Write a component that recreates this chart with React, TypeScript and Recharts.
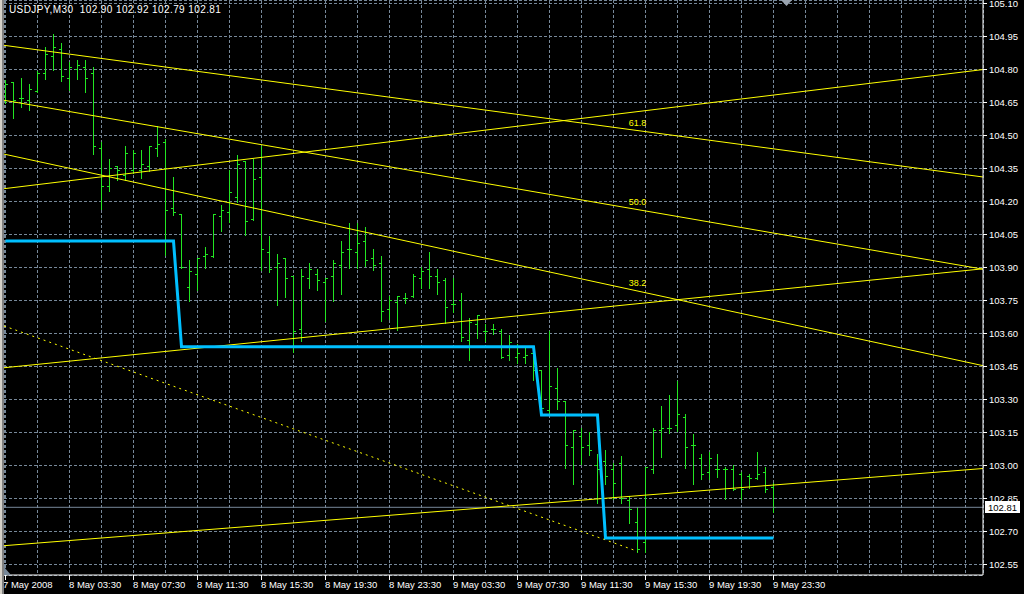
import React from 'react';
import {
  ComposedChart,
  Bar,
  Line,
  XAxis,
  YAxis,
  CartesianGrid,
  ReferenceLine,
  ReferenceDot,
} from 'recharts';

// ---------- data ----------
const timeLabels = [
  '7 May 2008', '8 May 03:30', '8 May 07:30', '8 May 11:30', '8 May 15:30',
  '8 May 19:30', '8 May 23:30', '9 May 03:30', '9 May 07:30', '9 May 11:30',
  '9 May 15:30', '9 May 19:30', '9 May 23:30',
];

const opens = [
  104.68, 104.74, 104.67, 104.66, 104.70, 104.78, 104.86, 104.89, 104.76, 104.80,
  104.81, 104.78, 104.44, 104.27, 104.36, 104.32, 104.34, 104.34, 104.36, 104.44,
  104.47, 104.17, 104.14, 103.81, 103.87, 103.95, 103.95, 104.13, 104.15, 104.22,
  104.38, 104.12, 104.31, 103.97, 103.90, 103.94, 103.86, 103.62, 103.85, 103.87,
  103.83, 103.86, 103.91, 103.98, 103.97, 104.02, 103.94, 103.92, 103.71, 103.74,
  103.76, 103.77, 103.85, 103.89, 103.86, 103.84, 103.73, 103.75, 103.57, 103.64,
  103.61, 103.62, 103.61, 103.50, 103.49, 103.49, 103.51, 103.43, 103.25, 103.35,
  103.29, 103.08, 103.13, 103.09, 103.00, 103.02, 102.98, 103.01, 102.84, 102.74,
  102.65, 102.98, 103.16, 103.17, 103.18, 103.22, 103.09, 103.03, 102.97, 102.98,
  102.98, 102.98, 102.96, 102.95, 102.94, 102.97, 102.90,
];

const highs = [
  104.75, 104.74, 104.76, 104.73, 104.79, 104.90, 104.96, 104.92, 104.83, 104.84,
  104.84, 104.81, 104.47, 104.39, 104.36, 104.45, 104.43, 104.43, 104.45, 104.54,
  104.48, 104.31, 104.14, 103.93, 103.94, 103.99, 104.14, 104.18, 104.34, 104.41,
  104.38, 104.39, 104.45, 104.04, 103.96, 103.94, 103.86, 103.89, 103.92, 103.89,
  103.85, 103.93, 104.02, 104.10, 104.10, 104.08, 103.98, 103.95, 103.77, 103.77,
  103.78, 103.87, 103.90, 103.97, 103.89, 103.85, 103.85, 103.78, 103.67, 103.68,
  103.64, 103.64, 103.62, 103.59, 103.55, 103.54, 103.52, 103.43, 103.61, 103.44,
  103.29, 103.16, 103.17, 103.15, 103.05, 103.07, 103.01, 103.04, 102.86, 102.81,
  102.99, 103.17, 103.27, 103.32, 103.38, 103.23, 103.14, 103.05, 103.06, 103.05,
  102.99, 103.00, 102.97, 102.96, 103.06, 102.99, 102.92,
];

const lows = [
  104.65, 104.58, 104.63, 104.62, 104.70, 104.76, 104.80, 104.75, 104.71, 104.76,
  104.70, 104.42, 104.17, 104.25, 104.30, 104.30, 104.33, 104.31, 104.34, 104.41,
  103.96, 104.14, 103.90, 103.75, 103.80, 103.90, 103.95, 104.07, 104.11, 104.20,
  104.05, 104.12, 103.89, 103.88, 103.73, 103.77, 103.52, 103.57, 103.81, 103.80,
  103.66, 103.75, 103.78, 103.90, 103.90, 103.91, 103.89, 103.66, 103.67, 103.62,
  103.74, 103.77, 103.81, 103.81, 103.78, 103.65, 103.70, 103.57, 103.48, 103.58,
  103.57, 103.60, 103.49, 103.48, 103.47, 103.47, 103.39, 103.24, 103.24, 103.26,
  102.99, 102.92, 103.01, 103.05, 102.83, 102.92, 102.85, 102.83, 102.74, 102.61,
  102.61, 102.97, 103.04, 103.15, 103.16, 102.99, 102.92, 102.94, 102.94, 102.95,
  102.85, 102.89, 102.85, 102.90, 102.94, 102.88, 102.79,
];

const closes = [
  104.73, 104.66, 104.67, 104.71, 104.78, 104.87, 104.90, 104.77, 104.81, 104.82,
  104.76, 104.45, 104.27, 104.35, 104.34, 104.42, 104.42, 104.37, 104.45, 104.46,
  104.16, 104.15, 103.90, 103.88, 103.94, 103.96, 104.14, 104.16, 104.24, 104.37,
  104.11, 104.30, 103.98, 103.89, 103.92, 103.85, 103.61, 103.86, 103.89, 103.84,
  103.85, 103.92, 103.97, 103.98, 104.01, 103.93, 103.91, 103.70, 103.75, 103.77,
  103.76, 103.86, 103.88, 103.86, 103.83, 103.72, 103.73, 103.58, 103.65, 103.68,
  103.61, 103.62, 103.49, 103.56, 103.51, 103.50, 103.43, 103.26, 103.36, 103.29,
  103.09, 103.16, 103.08, 103.07, 102.98, 102.95, 102.92, 102.85, 102.80, 102.62,
  102.99, 103.16, 103.17, 103.17, 103.23, 103.08, 103.09, 102.96, 103.03, 102.98,
  102.98, 102.89, 102.89, 102.94, 102.96, 102.89, 102.81,
];

// blue step indicator (one value per bar)
const levels = [
  ...Array(22).fill(104.02),
  ...Array(45).fill(103.54),
  ...Array(8).fill(103.23),
  ...Array(22).fill(102.67),
];

const priceTicks = [
  102.55, 102.7, 102.85, 103.0, 103.15, 103.3, 103.45, 103.6, 103.75,
  103.9, 104.05, 104.2, 104.35, 104.5, 104.65, 104.8, 104.95, 105.1,
];

// trend lines: anchor points (bar index, price)
const trendStartIdx = [0, 0, 0, 0, 0, 0];
const trendStartPrice = [104.909, 104.659, 104.414, 104.259, 103.445, 102.636];
const trendEndIdx = [120, 120, 120, 120, 120, 120];
const trendEndPrice = [104.322, 103.906, 103.471, 104.79, 103.886, 102.98];

// dotted trend line ending at the low
const dottedStart = { i: 0, p: 103.632 };
const dottedEnd = { i: 79, p: 102.61 };

const fiboTexts = ['61.8', '50.0', '38.2'];
const fiboLineIdx = [0, 1, 2];
const fiboAtBar = 79;

const lastPrice = 102.81;
const header = 'USDJPY,M30  102.90 102.92 102.79 102.81';

// ---------- layout constants ----------
const X_MIN = -0.1875;
const X_MAX = 122.1875;
const Y_MIN = 105.1 + 3.5 / 220 - 575 / 220;
const Y_MAX = 105.1 + 3.5 / 220;

const BAR_COLOR = '#22e622';
const GRID = '#778899';
const FONT = '"Liberation Sans", Arial, sans-serif';

const data = opens.map((o, i) => ({
  i,
  range: [lows[i], highs[i]],
  open: o,
  close: closes[i],
  level: levels[i],
}));

const gridTicks: number[] = [];
for (let k = 0; k <= 120; k += 4) gridTicks.push(k);

const lineAt = (k: number, x: number) =>
  trendStartPrice[k] +
  ((trendEndPrice[k] - trendStartPrice[k]) * (x - trendStartIdx[k])) /
    (trendEndIdx[k] - trendStartIdx[k]);

const dottedAt = (x: number) =>
  dottedStart.p + ((dottedEnd.p - dottedStart.p) * (x - dottedStart.i)) / (dottedEnd.i - dottedStart.i);

const OhlcShape = (props: any) => {
  const { x, y, width, height, payload } = props;
  if (x == null || y == null) return null;
  const col = Math.floor(x + width / 2);
  const [lo, hi] = payload.range;
  const top = Math.min(y, y + height);
  const bot = Math.max(y, y + height);
  const span = hi - lo;
  const py = (v: number) => (span === 0 ? top : top + ((hi - v) / span) * (bot - top));
  const oy = Math.floor(py(payload.open)) + 0.5;
  const cy = Math.floor(py(payload.close)) + 0.5;
  return (
    <g stroke={BAR_COLOR} strokeWidth={1} shapeRendering="crispEdges">
      <line x1={col + 0.5} x2={col + 0.5} y1={Math.floor(top)} y2={Math.ceil(bot) + 1} />
      <line x1={col - 2} x2={col} y1={oy} y2={oy} />
      <line x1={col + 1} x2={col + 3} y1={cy} y2={cy} />
    </g>
  );
};

const AXIS_Y = 575;

const XTick = (props: any) => {
  const { x, payload } = props;
  const v = payload.value;
  if (v % 8 !== 0 || v / 8 >= timeLabels.length) return null;
  const col = Math.floor(x) + 0.5;
  return (
    <g>
      <line x1={col} x2={col} y1={AXIS_Y} y2={AXIS_Y + 5} stroke="#fff" shapeRendering="crispEdges" />
      <text x={Math.floor(x) - (v === 0 ? 2 : 0)} y={AXIS_Y + 13} fill="#fff" fontSize={9.5} fontFamily={FONT} textAnchor="start">
        {timeLabels[v / 8]}
      </text>
    </g>
  );
};

const YTick = (props: any) => {
  const { x, y, payload } = props;
  return (
    <g>
      <line x1={x - 6} x2={x - 2} y1={Math.floor(y) + 0.5} y2={Math.floor(y) + 0.5} stroke="#fff" shapeRendering="crispEdges" />
      <text x={x} y={y + 3.8} fill="#fff" fontSize={9.5} fontFamily={FONT} textAnchor="start">
        {payload.value.toFixed(2)}
      </text>
    </g>
  );
};

const PriceTag = (props: any) => {
  const { viewBox } = props;
  if (!viewBox) return null;
  const rx = viewBox.x + viewBox.width + 2;
  const ry = Math.floor(viewBox.y) - 6;
  return (
    <g>
      <rect x={rx} y={ry} width={35} height={12} fill="#fff" />
      <text x={rx + 3} y={ry + 10} fill="#000" fontSize={9.5} fontFamily={FONT}>
        {lastPrice.toFixed(2)}
      </text>
    </g>
  );
};

export default function App() {
  return (
    <div
      style={{
        position: 'absolute',
        left: 0,
        top: 0,
        width: 1024,
        height: 594,
        background: '#000',
        overflow: 'hidden',
        fontFamily: FONT,
      }}
    >
      <ComposedChart
        width={1024}
        height={594}
        data={data}
        margin={{ top: 0, right: 0, bottom: 0, left: 4 }}
      >
        <CartesianGrid
          stroke={GRID}
          strokeDasharray="3 2"
          horizontal
          vertical
          shapeRendering="crispEdges"
        />
        <XAxis
          dataKey="i"
          type="number"
          domain={[X_MIN, X_MAX]}
          allowDataOverflow
          ticks={gridTicks}
          interval={0}
          height={19}
          tickLine={false}
          axisLine={{ stroke: '#fff' }}
          tick={<XTick />}
        />
        <YAxis
          orientation="right"
          type="number"
          domain={[Y_MIN, Y_MAX]}
          allowDataOverflow
          ticks={priceTicks}
          interval={0}
          width={41}
          tickLine={false}
          tickSize={4}
          tickMargin={2}
          axisLine={{ stroke: '#fff' }}
          tick={<YTick />}
        />
        <ReferenceLine y={lastPrice} stroke={GRID} ifOverflow="visible" label={<PriceTag />} />
        <Bar dataKey="range" barSize={7} shape={<OhlcShape />} isAnimationActive={false} />
        {trendStartPrice.map((_, k) => (
          <ReferenceLine
            key={'t' + k}
            segment={[
              { x: X_MIN, y: lineAt(k, X_MIN) },
              { x: X_MAX, y: lineAt(k, X_MAX) },
            ]}
            stroke="#ffff00"
            strokeWidth={1}
            ifOverflow="visible"
          />
        ))}
        <ReferenceLine
          segment={[
            { x: X_MIN, y: dottedAt(X_MIN) },
            { x: dottedEnd.i, y: dottedEnd.p },
          ]}
          stroke="#ffff00"
          strokeWidth={1}
          strokeDasharray="2 4"
          ifOverflow="visible"
        />
        {fiboTexts.map((t, k) => (
          <ReferenceDot
            key={'f' + k}
            x={fiboAtBar}
            y={lineAt(fiboLineIdx[k], fiboAtBar)}
            r={0}
            fill="none"
            stroke="none"
            ifOverflow="visible"
            label={{ value: t, position: 'top', offset: 5, fill: '#ffff00', fontSize: 9, fontFamily: FONT }}
          />
        ))}
        <Line
          dataKey="level"
          type="linear"
          stroke="#00bfff"
          strokeWidth={3}
          dot={false}
          activeDot={false}
          isAnimationActive={false}
        />
      </ComposedChart>
      <div
        style={{
          position: 'absolute',
          left: 9,
          top: 4,
          color: '#fff',
          fontSize: 10,
          letterSpacing: '0.4px',
          lineHeight: '12px',
          whiteSpace: 'pre',
          fontFamily: FONT,
        }}
      >
        {header}
      </div>
      <svg style={{ position: 'absolute', left: 781, top: 0 }} width={12} height={8}>
        <polygon points="0,0 11,0 5.5,6" fill="#9aa4b0" />
      </svg>
      <svg style={{ position: 'absolute', left: 4, top: 567 }} width={8} height={8}>
        <polygon points="0,0 0,8 7,8" fill="#778899" />
      </svg>
      <div style={{ position: 'absolute', left: 0, top: 0, width: 2, height: 594, background: '#d4d0c8' }} />
      <div style={{ position: 'absolute', left: 2, top: 0, width: 2, height: 594, background: '#808080' }} />
    </div>
  );
}
